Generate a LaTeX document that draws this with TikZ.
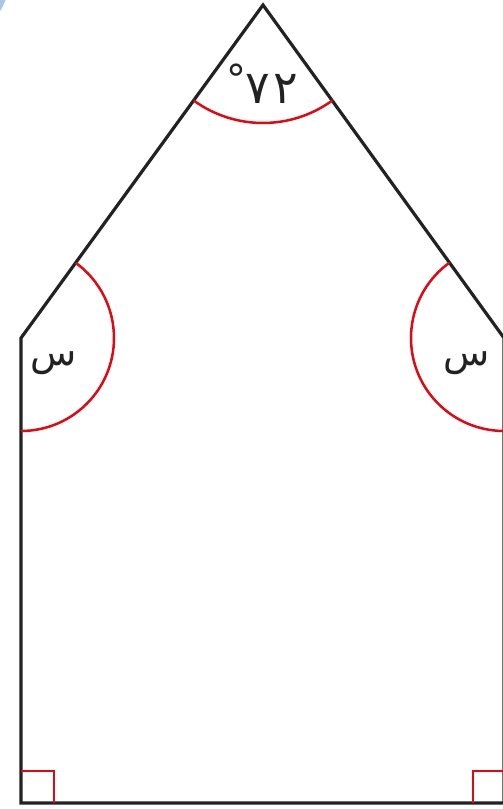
\documentclass[tikz,border=0pt]{standalone}
\usepackage{fontspec}
\newfontfamily\arabicfont[Script=Arabic]{DejaVu Sans}
\TeXXeTstate=1
\definecolor{edgeblack}{RGB}{34,34,34}
\definecolor{anglered}{RGB}{227,6,19}
\definecolor{cornerblue}{RGB}{168,198,235}
\begin{document}
\begin{tikzpicture}[x=1bp,y=1bp,
  edge/.style={draw=edgeblack,line width=3.2bp,line join=miter},
  anglearc/.style={draw=anglered,line width=2.5bp},
  rightmark/.style={draw=anglered,line width=2.5bp},
  lbl/.style={inner sep=0pt,text=edgeblack}]
\useasboundingbox (0,0) rectangle (503,809);
\fill[cornerblue] (-50,829) circle (59);
\coordinate (A) at (263,804);
\coordinate (L) at (21,471);
\coordinate (R) at (504,471);
\coordinate (BL) at (21,6);
\coordinate (BR) at (504,6);
\draw[edge] (BL) -- (L) -- (A) -- (R) -- (BR) -- cycle;
% angle arcs
\draw[anglearc] (A) ++(234:118) arc[start angle=234,end angle=306,radius=118];
\draw[anglearc] (L) ++(-90:93) arc[start angle=-90,end angle=54,radius=93];
\draw[anglearc] (R) ++(126:93) arc[start angle=126,end angle=270,radius=93];
% right angle marks
\draw[rightmark] (BL) ++(0,32) -- ++(33,0) -- ++(0,-32);
\draw[rightmark] (BR) ++(0,32) -- ++(-31,0) -- ++(0,-32);
% labels
\node[lbl] (tA) at (272,720) {\arabicfont\fontsize{46}{48}\selectfont ٧\kern3bp ٢};
\node[lbl] (tDeg) at (236,730) {\arabicfont\fontsize{40}{42}\selectfont °};
\node[lbl] (tL) at (54,446) {\arabicfont\fontsize{38}{40}\selectfont\beginR س\endR};
\node[lbl] (tR) at (467,446) {\arabicfont\fontsize{38}{40}\selectfont\beginR س\endR};
\end{tikzpicture}
\end{document}
